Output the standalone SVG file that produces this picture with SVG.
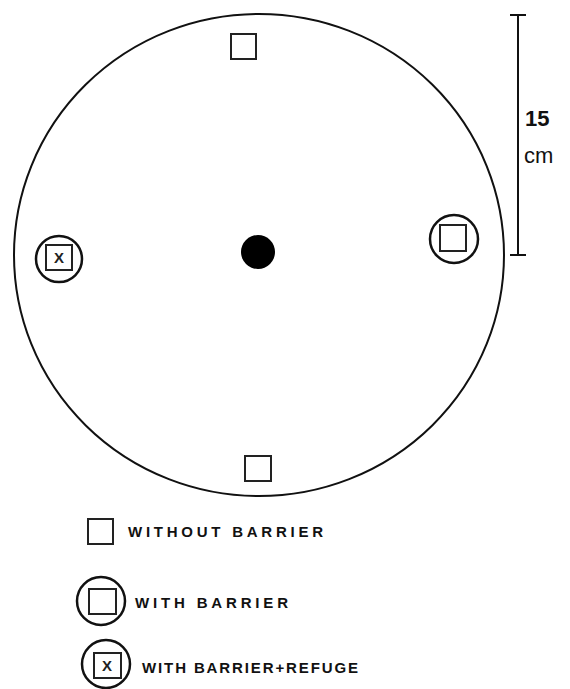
<svg xmlns="http://www.w3.org/2000/svg" width="570" height="689" viewBox="0 0 570 689">
<style>
.ln{fill:none;stroke:#111;stroke-width:2}
.lc{fill:none;stroke:#111;stroke-width:2.5}
.sq{fill:#fff;stroke:#222;stroke-width:2}
.lg{font-family:"Liberation Sans",Arial,sans-serif;font-weight:bold;font-size:15px;fill:#111}
.x{font-family:"Liberation Sans",Arial,sans-serif;font-weight:bold;font-size:15px;fill:#222;text-anchor:middle}
.sc{font-family:"Liberation Sans",Arial,sans-serif;font-size:22px;fill:#111}
</style>
<rect width="570" height="689" fill="#fff"/>
<g id="arena">
<ellipse class="ln" cx="259" cy="255" rx="245" ry="241"/>
</g>
<g id="center-dot"><circle cx="258" cy="252" r="17" fill="#000"/></g>
<g id="top-square"><rect class="sq" x="231" y="34" width="25" height="25"/></g>
<g id="bottom-square"><rect class="sq" x="245" y="456" width="26" height="25"/></g>
<g id="left-refuge">
<circle class="lc" cx="59" cy="259" r="23"/>
<rect class="sq" x="46" y="245" width="26" height="25"/>
<text class="x" x="59" y="263">X</text>
</g>
<g id="right-barrier">
<circle class="lc" cx="454" cy="239" r="24"/>
<rect class="sq" x="440" y="225" width="26" height="26"/>
</g>
<g id="scale">
<line class="ln" x1="518" y1="15" x2="518" y2="255"/>
<line class="ln" x1="510" y1="15" x2="526" y2="15"/>
<line class="ln" x1="510" y1="255" x2="526" y2="255"/>
<text class="sc" x="525" y="126" font-weight="bold">15</text>
<text class="sc" x="524" y="163">cm</text>
</g>
<g id="legend-without">
<rect class="sq" x="88" y="519" width="25" height="25"/>
<text class="lg" x="128" y="537" textLength="195" lengthAdjust="spacing">WITHOUT BARRIER</text>
</g>
<g id="legend-with">
<circle class="lc" cx="101" cy="601" r="24"/>
<rect class="sq" x="89" y="589" width="27" height="25"/>
<text class="lg" x="135" y="608" textLength="153" lengthAdjust="spacing">WITH BARRIER</text>
</g>
<g id="legend-refuge">
<circle class="lc" cx="106" cy="664" r="24"/>
<rect class="sq" x="94" y="653" width="27" height="25"/>
<text class="x" x="107" y="671">X</text>
<text class="lg" x="142" y="673" textLength="216" lengthAdjust="spacing">WITH  BARRIER+REFUGE</text>
</g>
</svg>
